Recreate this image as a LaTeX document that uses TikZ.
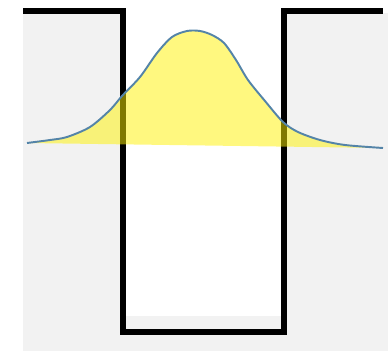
\documentclass[tikz,border=0pt]{standalone}
\usepackage{tikz}
\definecolor{wavecol}{RGB}{84,132,168}
\definecolor{bggray}{RGB}{242,242,242}

\begin{document}
\begin{tikzpicture}[x=0.02cm, y=-0.02cm,
    wall/.style={line width=3.2pt, line join=miter},
    wave/.style={draw=wavecol, line width=1.1pt},
    density/.style={fill=yellow, fill opacity=0.5}]
  \useasboundingbox (0,0) rectangle (388,351);

  % barrier regions
  \fill[bggray] (23,13) rectangle (388,351);
  \fill[white] (123,13) rectangle (283,316);

  % potential well
  \draw[wall] (23,11) -- (123,11) -- (123,332) -- (284,332) -- (284,11) -- (383,11);

  % probability density
  \fill[density] plot[smooth] coordinates {(27,143) (50,140) (67,137) (90,127) (110,110) (122,96) (140,77) (157,53) (172,37) (187,31) (200,31) (212,35) (224,43) (236,60) (248,80) (265,101) (283,122) (298,132) (320,140) (345,145) (383,148)} -- cycle;
  \draw[wave] plot[smooth] coordinates {(27,143) (50,140) (67,137) (90,127) (110,110) (122,96) (140,77) (157,53) (172,37) (187,31) (200,31) (212,35) (224,43) (236,60) (248,80) (265,101) (283,122) (298,132) (320,140) (345,145) (383,148)};
\end{tikzpicture}
\end{document}
